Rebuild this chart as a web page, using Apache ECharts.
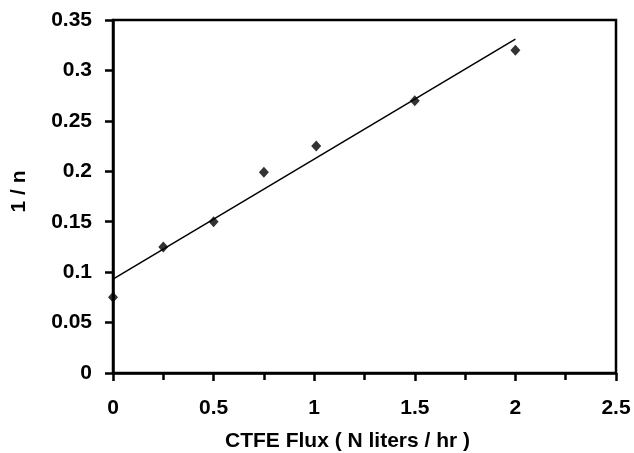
<!DOCTYPE html>
<html>
<head>
<meta charset="utf-8">
<script src="https://cdn.jsdelivr.net/npm/echarts@6/dist/echarts.min.js"></script>
<style>
  html, body { margin: 0; padding: 0; background: #fff; }
  #main { width: 634px; height: 453px; }
</style>
</head>
<body>
<div id="main"></div>
<script>
var fluxValues = [0, 0.25, 0.5, 0.75, 1.01, 1.5, 2.0];
var invN = [0.075, 0.125, 0.15, 0.199, 0.225, 0.27, 0.32];
var fitX = [0, 2.0];
var fitY = [0.093, 0.331];

var points = fluxValues.map(function (x, i) { return [x, invN[i]]; });
var fitLine = fitX.map(function (x, i) { return [x, fitY[i]]; });

var chart = echarts.init(document.getElementById('main'));
var labelFont = { color: '#000', fontFamily: 'Liberation Sans, Arial, sans-serif', fontWeight: 'bold', fontSize: 21 };

var option = {
    animation: false,
    backgroundColor: '#fff',
    grid: {
        left: 113, right: 18, top: 20, bottom: 80,
        outerBoundsMode: 'none',
        containLabel: false,
        show: true, borderColor: '#000', borderWidth: 2.5
    },
    xAxis: {
        type: 'value',
        min: 0, max: 2.5, interval: 0.5,
        name: 'CTFE Flux ( N liters / hr )',
        nameLocation: 'middle',
        nameGap: 58,
        nameTextStyle: Object.assign({ padding: [0, 34, 0, 0] }, labelFont),
        axisLine: { show: true, lineStyle: { color: '#000', width: 2.5 } },
        axisTick: { show: true, inside: false, length: 8, lineStyle: { color: '#000', width: 2.5 } },
        minorTick: { show: true, splitNumber: 2, length: 7, lineStyle: { color: '#000', width: 2.5 } },
        splitLine: { show: false },
        axisLabel: Object.assign({ margin: 25 }, labelFont)
    },
    yAxis: {
        type: 'value',
        min: 0, max: 0.35, interval: 0.05,
        name: '1 / n',
        nameLocation: 'middle',
        nameGap: 83,
        nameRotate: 90,
        nameTextStyle: Object.assign({ padding: [0, 0, 0, 10] }, labelFont),
        axisLine: { show: true, lineStyle: { color: '#000', width: 2.5 } },
        axisTick: { show: true, inside: false, length: 8, lineStyle: { color: '#000', width: 2.5 } },
        splitLine: { show: false },
        axisLabel: Object.assign({ margin: 21 }, labelFont)
    },
    series: [{
        type: 'line',
        data: fitLine,
        symbol: 'none',
        lineStyle: { color: '#000', width: 1.5 },
        z: 2
    }, {
        type: 'scatter',
        data: points,
        symbol: 'diamond',
        symbolSize: [10, 11],
        itemStyle: { color: '#000' },
        z: 3
    }]
};
chart.setOption(option);
</script>
</body>
</html>
